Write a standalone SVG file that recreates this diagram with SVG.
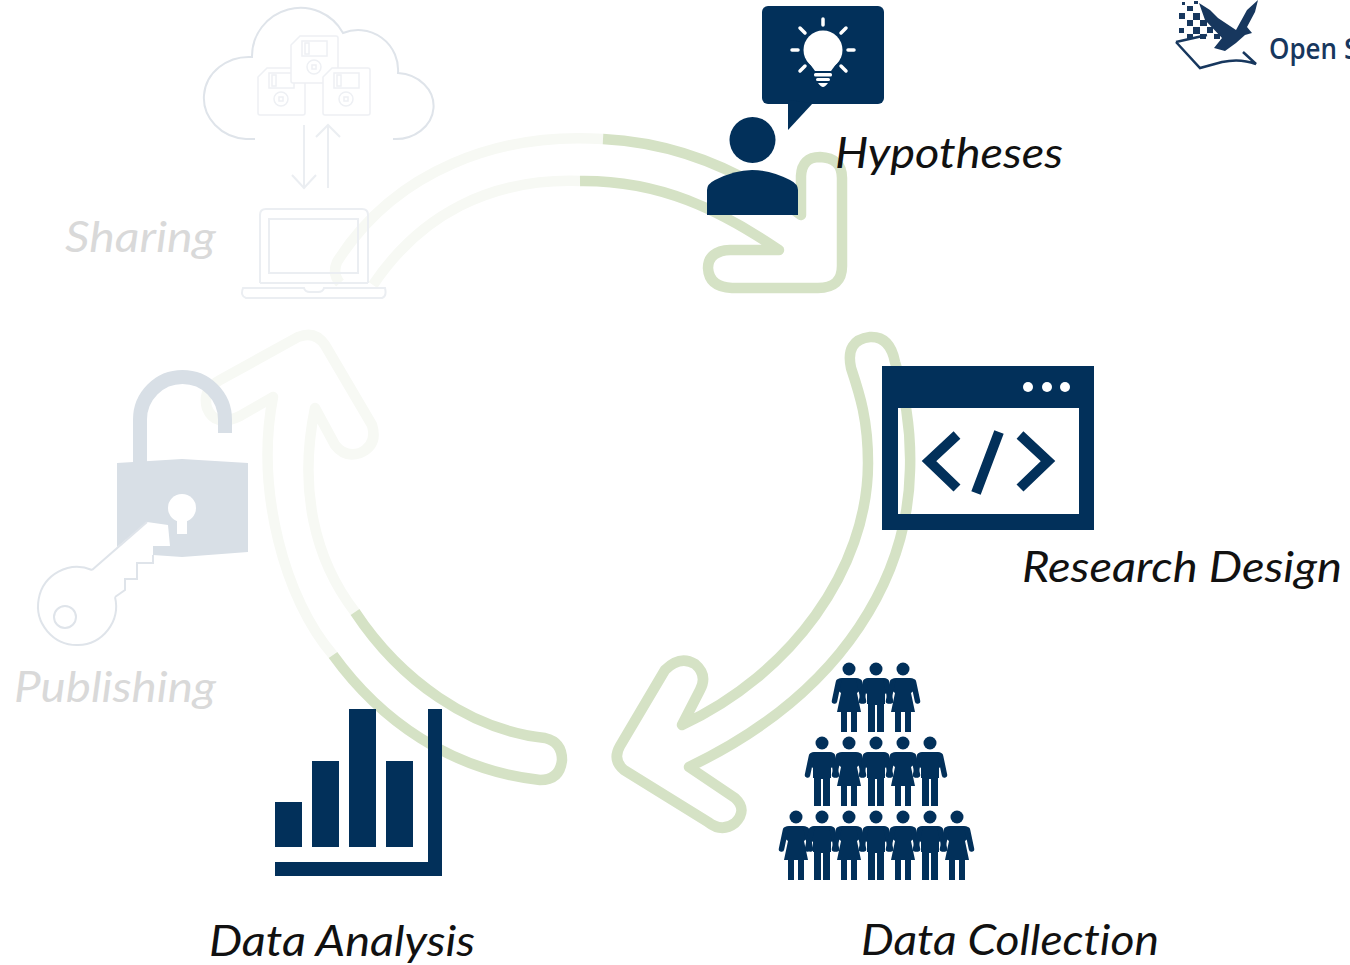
<svg xmlns="http://www.w3.org/2000/svg" xmlns:xlink="http://www.w3.org/1999/xlink" width="1350" height="965" viewBox="0 0 1350 965">
<style>
.lbl{font-family:"Lato","Open Sans","Liberation Sans",sans-serif;font-style:italic;font-size:43px;fill:#111;font-variant-ligatures:none}
.fade{fill:#d9d9d9}
.g{fill:none;stroke:#d5e2c5;stroke-width:10.500;stroke-linejoin:round;stroke-linecap:butt}
.f{fill:none;stroke:#f7f9f4;stroke-width:10.500;stroke-linejoin:round}
.d{fill:#02305a}
.l{fill:none;stroke:#ebeef2;stroke-width:2}
.c{fill:none;stroke:#dfe4ea;stroke-width:2}
.fl{fill:none;stroke:#eef0f4;stroke-width:1.500}
</style>
<defs>
<g id="man"><circle cx="0" cy="0" r="6.500"/><path d="M-8,9H8Q12,9 13,13V22L9,25V35H8V63H1V36H-1V63H-8V35H-9V25L-13,22V13Q-12,9 -8,9Z"/><path d="M-10.500,13L-14.500,32M10.500,13L14.500,32" fill="none" stroke="#02305a" stroke-width="5.500" stroke-linecap="round"/></g>
<g id="woman"><circle cx="0" cy="0" r="6.500"/><path d="M-7,9H7Q12,9 13,13V20L8,24L12,43H8V63H2V43H-2V63H-8V43H-12L-8,24L-13,20V13Q-12,9 -7,9Z"/><path d="M-10.500,13L-14.500,32M10.500,13L14.500,32" fill="none" stroke="#02305a" stroke-width="5.500" stroke-linecap="round"/></g>
<g id="floppy"><path d="M9,0H45Q47,0 47,2V45Q47,47 45,47H2Q0,47 0,45V9Z" fill="#fff" stroke="#eef0f4" stroke-width="1.500"/><rect class="fl" x="11" y="5" width="25" height="15"/><rect class="fl" x="14" y="7" width="4" height="11"/><circle class="fl" cx="23" cy="31" r="7"/><rect class="fl" x="21" y="29" width="4" height="4"/></g>
</defs>
<rect width="1350" height="965" fill="#fff"/>
<g id="connectors">
<path class="f" d="M603,139C500,132 395,170 337,262Q332,274 340,283M580,181C490,178 420,215 373,285"/>
<path class="g" d="M603,139C680,143 745,172 801,215V176Q802,157 820,157Q842,158 842,178V266Q842,288 818,288H732Q709,287 708,268Q708,251 730,250H779C720,210 660,180 580,181"/>
<path class="g" d="M895,362C907,400 911,440 910,470C908,570 850,690 689,767L735,798Q748,810 735,823Q722,833 708,822L624,770Q612,760 620,746L665,670Q680,655 695,664Q708,675 700,690L682,725C790,675 868,570 868,463C868,420 860,395 851,368Q845,340 870,337Q890,336 895,362Z"/>
<path class="f" d="M333,655C285,600 255,490 273,397L240,416Q215,428 207,408Q202,390 220,380L298,337Q315,330 325,345L372,425Q378,445 360,453Q345,458 335,445L315,408C298,490 315,560 355,612"/>
<path class="g" d="M355,612C400,680 470,730 545,738Q562,742 562,760Q560,780 540,780C450,770 380,720 333,655"/>
</g>
<g id="hypotheses">
<rect class="d" x="762" y="6" width="122" height="98" rx="6"/>
<path class="d" d="M788,100V130L813,103Z"/>
<g fill="#fff"><circle cx="823" cy="50" r="19.500"/><path d="M807,60L815,71H831L839,60Z"/><rect x="814" y="73" width="18" height="3.500" rx="1.500"/><rect x="816" y="78" width="14" height="3" rx="1.500"/><path d="M818,83H828Q825,87 823,87Q821,87 818,83Z"/></g>
<g stroke="#fff" stroke-width="3.500" stroke-linecap="round"><path d="M823,19V25M800,28L805,33M846,28L841,33M792,50H798M848,50H854M800,71L805,66M846,71L841,66"/></g>
<circle class="d" cx="752.500" cy="140" r="23"/>
<path class="d" d="M707,215V190Q707,184 715,180Q735,170 752,170Q770,170 790,180Q798,184 798,190V215Z"/>
<text class="lbl" x="835" y="168" textLength="228" lengthAdjust="spacingAndGlyphs">Hypotheses</text>
</g>
<g id="research-design">
<path class="d" fill-rule="evenodd" d="M882,366H1094V530H882ZM898,408V514H1079V408Z"/>
<circle cx="1028" cy="387" r="5" fill="#fff"/><circle cx="1047" cy="387" r="5" fill="#fff"/><circle cx="1065" cy="387" r="5" fill="#fff"/>
<path d="M957,435L929,461L957,488M1020,435L1048,461L1020,488M999,432L976,493" fill="none" stroke="#02305a" stroke-width="10"/>
<text class="lbl" x="1022" y="582" textLength="320" lengthAdjust="spacingAndGlyphs">Research Design</text>
</g>
<g id="data-collection" fill="#02305a">
<use xlink:href="#woman" href="#woman" x="849" y="669"/><use xlink:href="#man" href="#man" x="876" y="669"/><use xlink:href="#woman" href="#woman" x="903" y="669"/>
<use xlink:href="#man" href="#man" x="822" y="743"/><use xlink:href="#woman" href="#woman" x="849" y="743"/><use xlink:href="#man" href="#man" x="876" y="743"/><use xlink:href="#woman" href="#woman" x="903" y="743"/><use xlink:href="#man" href="#man" x="930" y="743"/>
<use xlink:href="#woman" href="#woman" x="796" y="817"/><use xlink:href="#man" href="#man" x="822" y="817"/><use xlink:href="#woman" href="#woman" x="849" y="817"/><use xlink:href="#man" href="#man" x="876" y="817"/><use xlink:href="#woman" href="#woman" x="903" y="817"/><use xlink:href="#man" href="#man" x="930" y="817"/><use xlink:href="#woman" href="#woman" x="957" y="817"/>
<text class="lbl" x="861" y="955" textLength="298" lengthAdjust="spacingAndGlyphs">Data Collection</text>
</g>
<g id="data-analysis">
<path class="d" d="M275,802H302V847H275ZM312,761H339V847H312ZM349,709H376V847H349ZM386,761H413V847H386ZM428,709H442V876H275V862H428Z"/>
<text class="lbl" x="209" y="956" textLength="266" lengthAdjust="spacingAndGlyphs">Data Analysis</text>
</g>
<g id="publishing">
<path d="M140,463V419.500A42.500,42.500 0 0 1 225,419.500V433" fill="none" stroke="#d8dfe6" stroke-width="14"/>
<path fill="#d8dfe6" d="M117,463L182,459L248,463V552L182,557L153,555V546H170L168,525L147,522L117,547Z"/>
<circle cx="182" cy="508" r="14" fill="#fff"/><rect x="177" y="518" width="10" height="16" fill="#fff"/>
<path class="c" d="M92,570L147,522M115,597L125,590V579H137V563H153V555M92,570A39,39 0 1 0 115,597"/>
<circle class="c" cx="65" cy="617" r="11"/>
<text class="lbl fade" x="14" y="702" textLength="202" lengthAdjust="spacingAndGlyphs">Publishing</text>
</g>
<g id="sharing">
<path class="c" d="M255,139H246A45,41 0 1 1 252,57A48.500,48.500 0 0 1 343,33A40,40 0 0 1 398,73A38,33 0 0 1 393,139"/>
<use xlink:href="#floppy" href="#floppy" x="258" y="68"/><use xlink:href="#floppy" href="#floppy" x="291" y="36"/><use xlink:href="#floppy" href="#floppy" x="323" y="68"/>
<path class="l" d="M304,125V188M292,175L304,188L316,175M328,188V125M316,137L328,125L340,137"/>
<path class="l" d="M260,283V215Q260,209 266,209H362Q368,209 368,215V283"/>
<rect class="l" x="269" y="219" width="89" height="54"/>
<path class="l" d="M260,283H368"/>
<path class="l" d="M243,288H304Q305,292 310,292H318Q323,292 324,288H385Q387,296 382,298H246Q240,296 243,288Z"/>
<text class="lbl fade" x="65" y="252" textLength="151" lengthAdjust="spacingAndGlyphs">Sharing</text>
</g>
<g id="logo" fill="#17375e">
<path d="M1199,3L1210,10L1218,18L1236,30L1247,10L1258,0L1255,12L1247,27L1252,33L1245,35L1236,43L1225,51L1214,48L1222,38L1205,20Z"/>
<path fill="none" stroke="#17375e" stroke-width="2.500" d="M1176,42L1207,35M1176,42L1200,68L1222,62Q1240,58 1256,64L1243,52"/>
<path d="M1182,2h3v3h-3zM1194,1h4v3h-4zM1187,6h6v5h-6zM1179,13h6v6h-6zM1193,13h7v7h-7zM1187,20h6v6h-6zM1200,20h7v6h-7zM1179,28h5v5h-5zM1193,27h7v7h-7zM1207,27h6v6h-6zM1187,34h6v5h-6zM1200,34h6v5h-6zM1214,34h6v5h-6z"/>
<text x="1269" y="59" font-family="'Open Sans','Liberation Sans',sans-serif" font-size="28" font-weight="600" textLength="68" lengthAdjust="spacingAndGlyphs">Open</text>
<text x="1344" y="59" font-family="'Open Sans','Liberation Sans',sans-serif" font-size="28" font-weight="600">S</text>
</g>
</svg>
